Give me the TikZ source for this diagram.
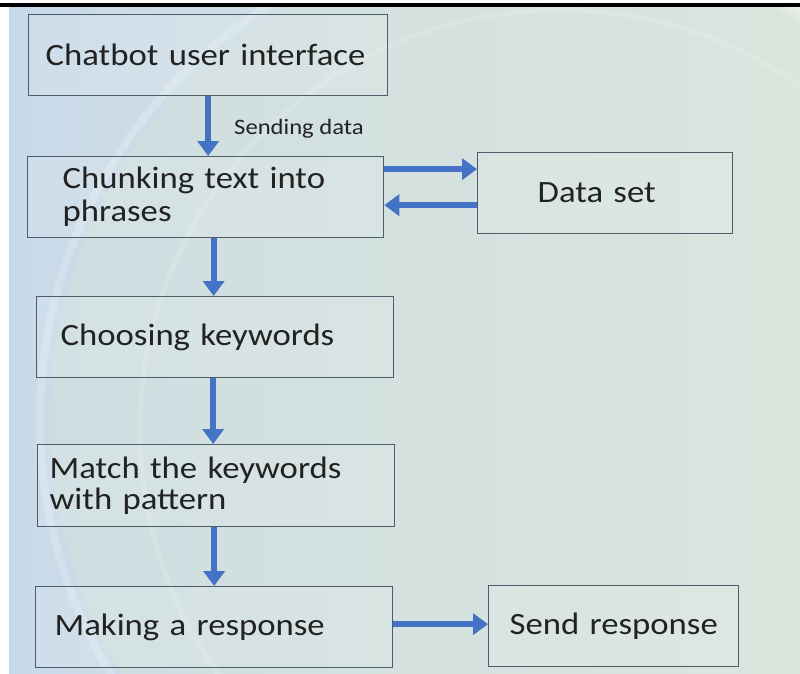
\documentclass[tikz,border=0pt]{standalone}
\usepackage{fontspec}
\setmainfont{Carlito}
\newfontfamily\widefont[FakeStretch=1.12]{Carlito}
\usetikzlibrary{arrows.meta}
\definecolor{bgleft}{HTML}{C8D9E9}
\definecolor{bgright}{HTML}{E0EADF}
\definecolor{bgmid}{HTML}{D4E1DC}
\definecolor{boxline}{HTML}{4E5B69}
\definecolor{arrowblue}{HTML}{4472C4}
\definecolor{txt}{HTML}{222222}
\tikzset{
  box/.style={draw=boxline, line width=1.3pt, fill=white, fill opacity=0.12,
    text opacity=1, text=txt, align=left, anchor=north west,
    font=\widefont\fontsize{31}{31}\selectfont, inner ysep=0pt},
  flow/.style={draw=arrowblue, line width=6pt,
    -{Triangle[length=15pt,width=21pt]}},
  lbl/.style={text=txt, font=\widefont\fontsize{22}{24}\selectfont, inner sep=0pt}
}
\begin{document}
\begin{tikzpicture}[x=1pt,y=-1pt]
\useasboundingbox (0,0) rectangle (800,674);
\fill[white] (0,0) rectangle (800,674);
\fill[left color=bgleft, right color=bgright] (9,7) rectangle (800,674);
\begin{scope}
\clip (9,7) rectangle (800,674);
\fill[bgmid, opacity=0.5] (530,420) circle[radius=480];
\draw[white, opacity=0.2, line width=8pt] (530,420) circle[radius=490];
\draw[white, opacity=0.15, line width=5pt] (560,430) circle[radius=420];
\end{scope}
\fill[black] (0,3.5) rectangle (800,7.5);

\node[box, minimum height=81pt, text width=325pt, inner xsep=17pt] (chat) at (28,14)
  {\mbox{Chatbot user interface}};
\node[box, minimum height=81pt, text width=286pt, inner xsep=35pt] (chunk) at (27,156)
  {\mbox{Chunking text into}\\[2pt]phrases};
\node[box, minimum height=81pt, text width=135pt, inner xsep=60pt] (data) at (477,152)
  {\mbox{Data set}};
\node[box, minimum height=81pt, text width=309pt, inner xsep=24pt] (choose) at (36,296)
  {\mbox{Choosing keywords}};
\node[box, minimum height=82pt, text width=333pt, inner xsep=12pt] (match) at (37,444)
  {\mbox{Match the keywords}\\with pattern};
\node[box, minimum height=81pt, text width=319pt, inner xsep=19pt] (make) at (35,586)
  {\mbox{Making a response}};
\node[box, minimum height=81pt, text width=208pt, inner xsep=21pt] (send) at (488,585)
  {\mbox{Send response}};

\draw[flow] (chat.south) -- (chat.south |- chunk.north);
\node[lbl, anchor=base west] (sd) at (234,135) {Sending data};
\draw[flow] ([yshift=28pt]chunk.east) -- ([yshift=28pt]chunk.east -| data.west);
\draw[flow] ([yshift=-12pt]data.west) -- ([yshift=-12pt]data.west -| chunk.east);
\draw[flow] ([xshift=8pt]chunk.south) -- ([xshift=8pt]chunk.south |- choose.north);
\draw[flow] ([xshift=-2pt]choose.south) -- ([xshift=-2pt]choose.south |- match.north);
\draw[flow] ([xshift=-2pt]match.south) -- ([xshift=-2pt]match.south |- make.north);
\draw[flow] ([yshift=3pt]make.east) -- ([yshift=3pt]make.east -| send.west);
\end{tikzpicture}
\end{document}
